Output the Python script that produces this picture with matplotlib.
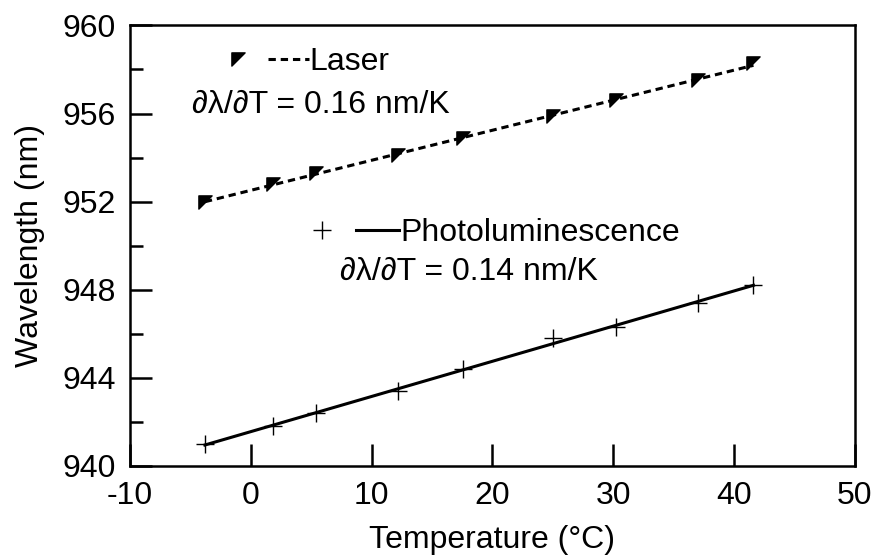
import numpy as np
import matplotlib
matplotlib.use("Agg")
import matplotlib.pyplot as plt
from matplotlib.path import Path
from matplotlib.lines import Line2D
from matplotlib.legend_handler import HandlerTuple
from matplotlib.ticker import MultipleLocator

# measured peak wavelength vs. heat-sink temperature
temp_laser = [-3.8, 1.8, 5.4, 12.2, 17.6, 25.0, 30.2, 37.0, 41.6]
wl_laser = [952.0, 952.8, 953.3, 954.1, 954.9, 955.9, 956.6, 957.5, 958.3]

temp_pl = [-3.8, 1.8, 5.4, 12.2, 17.6, 25.0, 30.2, 37.0, 41.6]
wl_pl = [941.0, 941.8, 942.4, 943.4, 944.4, 945.8, 946.3, 947.4, 948.2]

slope_laser_label = "\u2202\u03bb/\u2202T = 0.16 nm/K"
slope_pl_label = "\u2202\u03bb/\u2202T = 0.14 nm/K"

plt.rcParams["font.family"] = ["Liberation Sans", "DejaVu Sans"]
plt.rcParams["font.size"] = 23
plt.rcParams["axes.unicode_minus"] = False

# filled corner-triangle marker
corner_tri = Path([(-1, 1), (1, 1), (-1, -1), (-1, 1)],
                  [Path.MOVETO, Path.LINETO, Path.LINETO, Path.CLOSEPOLY])

fig = plt.figure(figsize=(8.74, 5.56), dpi=100)
ax = fig.add_axes([0.1487, 0.1619, 0.8295, 0.7924])

dash = (0, (2.4, 1.6))

# linear fits through each series
t_laser = np.array(temp_laser)
t_pl = np.array(temp_pl)
fit_laser = np.polyfit(t_laser, wl_laser, 1)
fit_pl = np.polyfit(t_pl, wl_pl, 1)
ax.plot(t_laser, np.polyval(fit_laser, t_laser), color="black", lw=2.2, ls=dash)
ax.plot(t_pl, np.polyval(fit_pl, t_pl), color="black", lw=2.2)

ax.plot(temp_laser, wl_laser, ls="none", marker=corner_tri, ms=9.5, color="black")
ax.plot(temp_pl, wl_pl, ls="none", marker="+", ms=13, mew=1.0, color="black")

ax.set_xlim(-10, 50)
ax.set_ylim(940, 960)
ax.xaxis.set_major_locator(MultipleLocator(10))
ax.yaxis.set_major_locator(MultipleLocator(4))
ax.yaxis.set_minor_locator(MultipleLocator(2))
ax.tick_params(axis="both", which="major", direction="in", length=16, width=1.8)
ax.tick_params(axis="y", which="minor", direction="in", length=9, width=1.8)
ax.tick_params(axis="x", pad=11)
ax.tick_params(axis="y", pad=10)
for spine in ax.spines.values():
    spine.set_linewidth(1.8)

ax.set_xlabel("Temperature (\u00b0C)", labelpad=10)
ax.set_ylabel("Wavelength (nm)", labelpad=13)

# legend entries: marker, then line sample, then name
h_laser = (Line2D([], [], ls="none", marker=corner_tri, ms=9.5, color="black"),
           Line2D([], [], ls=dash, lw=2.2, color="black"))
h_pl = (Line2D([], [], ls="none", marker="+", ms=13, mew=1.0, color="black"),
        Line2D([], [], lw=2.2, color="black"))

leg1 = ax.legend([h_laser], ["Laser"], loc="center left",
                 bbox_to_anchor=(0.121, 0.917), frameon=False,
                 borderpad=0, borderaxespad=0, handlelength=2.85,
                 handletextpad=0.02,
                 handler_map={tuple: HandlerTuple(ndivide=2, pad=0.3)})
ax.add_artist(leg1)
ax.legend([h_pl], ["Photoluminescence"], loc="center left",
          bbox_to_anchor=(0.235, 0.529), frameon=False,
          borderpad=0, borderaxespad=0, handlelength=3.1,
          handletextpad=0.02,
          handler_map={tuple: HandlerTuple(ndivide=2, pad=0.4)})

ax.text(0.085, 0.82, slope_laser_label, transform=ax.transAxes, va="center")
ax.text(0.29, 0.44, slope_pl_label, transform=ax.transAxes, va="center")

fig.savefig("out.png", dpi=100)
